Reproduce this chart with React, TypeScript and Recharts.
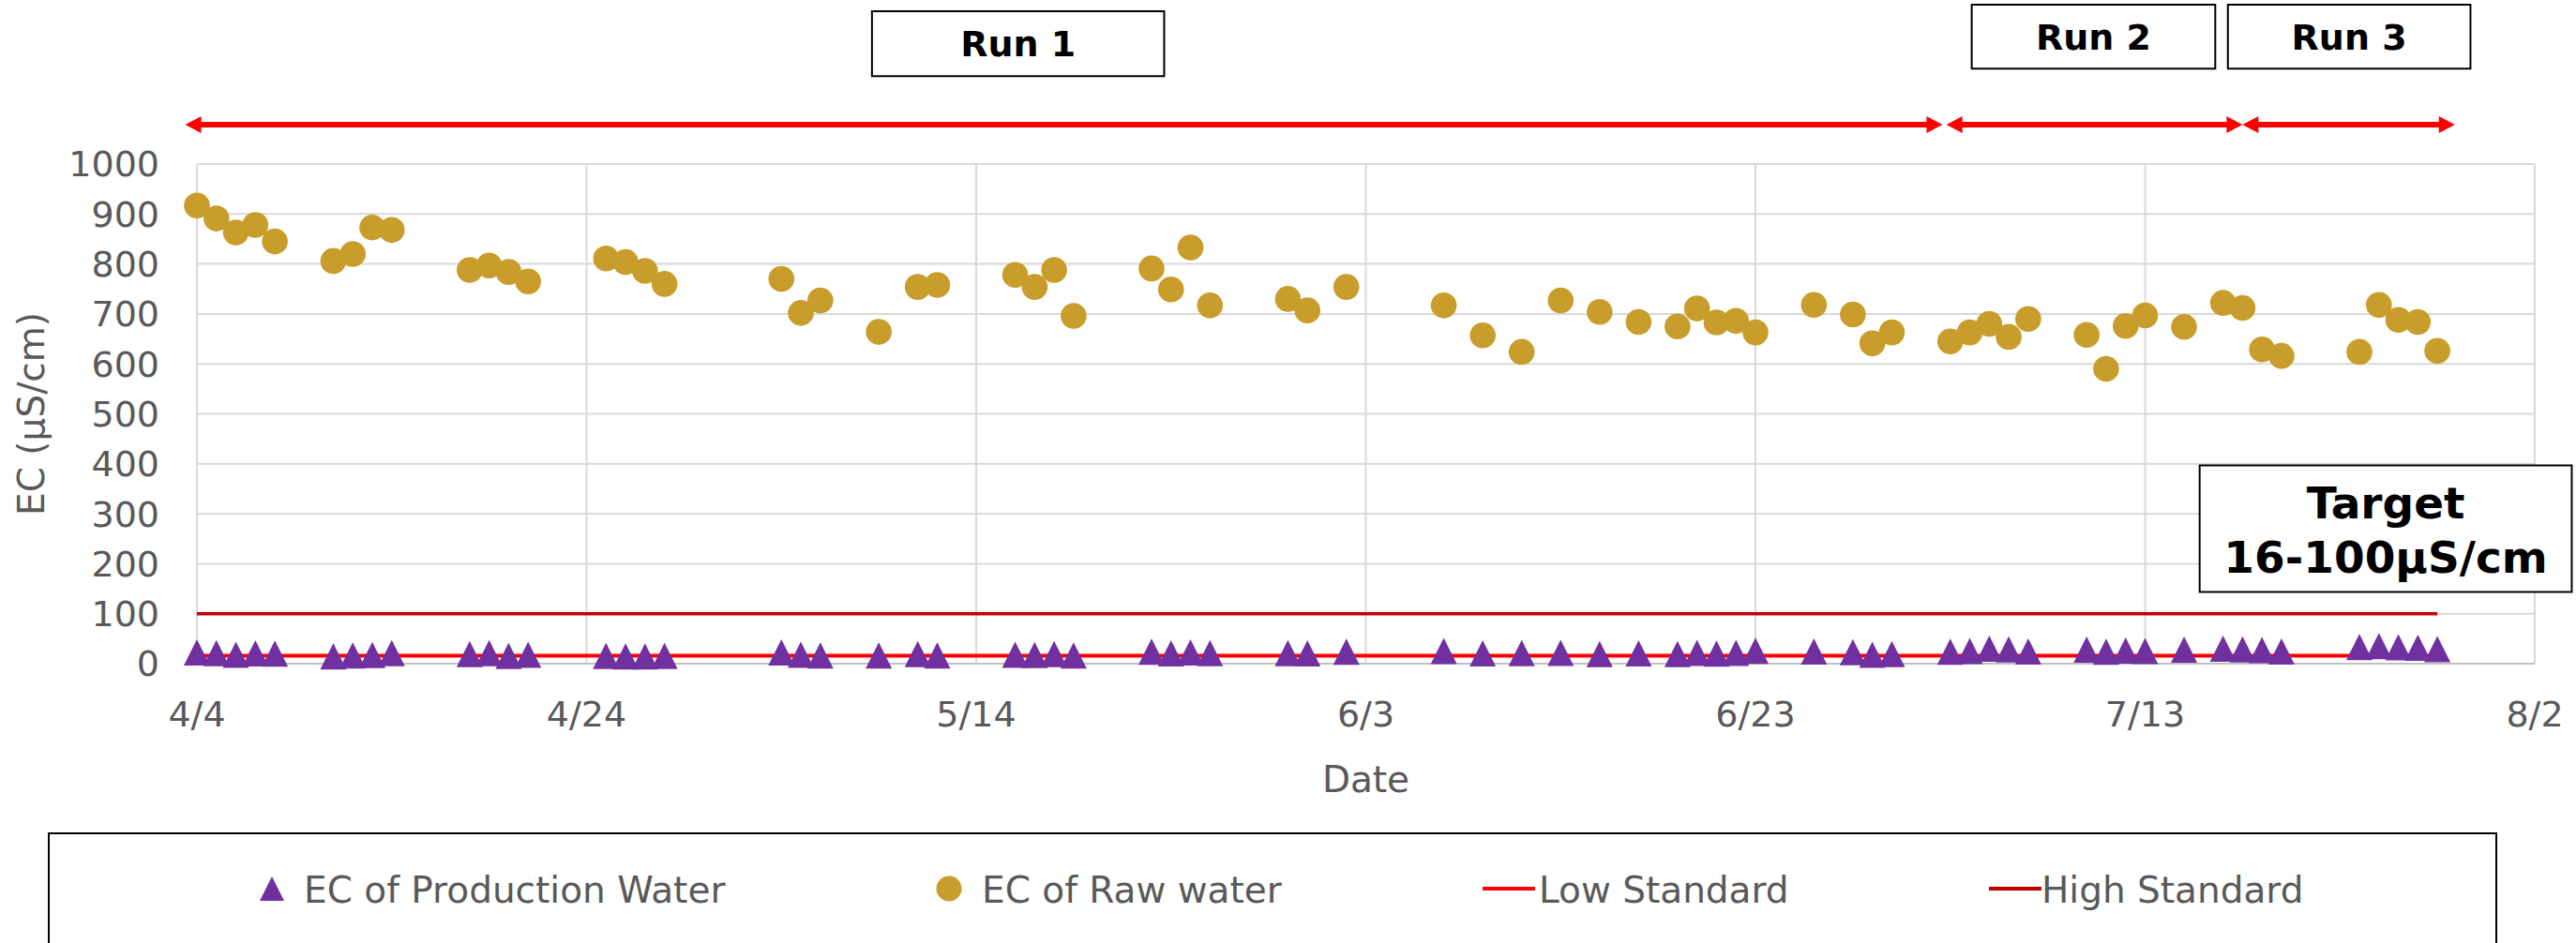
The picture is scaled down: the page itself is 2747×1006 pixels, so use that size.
import React from 'react';
import {
  ComposedChart,
  Scatter,
  Line,
  XAxis,
  YAxis,
  CartesianGrid,
  ReferenceArea,
  ReferenceLine,
} from 'recharts';

// ---------------- data ----------------
const dates = [
  '4/4', '4/5', '4/6', '4/7', '4/8', '4/11', '4/12', '4/13', '4/14', '4/18', '4/19', '4/20', '4/21', '4/25', '4/26', '4/27', '4/28',
  '5/4', '5/5', '5/6', '5/9', '5/11', '5/12', '5/16', '5/17', '5/18', '5/19', '5/23', '5/24', '5/25', '5/26', '5/30', '5/31',
  '6/2', '6/7', '6/9', '6/11', '6/13', '6/15', '6/17', '6/19', '6/20', '6/21', '6/22', '6/23', '6/26', '6/28', '6/29', '6/30',
  '7/3', '7/4', '7/5', '7/6', '7/7', '7/10', '7/11', '7/12', '7/13', '7/15', '7/17', '7/18', '7/19', '7/20', '7/24', '7/25', '7/26', '7/27', '7/28',
];

const productionEC = [
  22.5, 21, 18, 20.6, 20, 14.5, 16.3, 17.5, 21, 19.4, 21, 15.7, 18, 15.7, 14.5, 14.5, 15.7,
  22.5, 18, 16.3, 16.3, 19.4, 16.3, 18, 17.5, 19.4, 16.3, 23.7, 20.6, 22.5, 21.2, 21.2, 20.6,
  23.7, 25.5, 20.6, 21.2, 21.8, 19.4, 20.6, 19.4, 21.8, 20, 21.8, 26, 24.3, 23, 18, 19.4,
  23.7, 25.5, 29.8, 28.6, 24.3, 28, 23.7, 26.2, 25.5, 28, 29.8, 28.6, 27.4, 24.3, 33.5, 35.4, 32.9, 31.7, 29.2,
];

const rawEC = [
  917, 891, 863, 878, 845, 806, 820, 873, 868, 788, 797, 784, 765, 811, 804, 786, 760,
  770, 702, 727, 664, 754, 758, 778, 754, 788, 696, 791, 749, 833, 717, 730, 707,
  754, 717, 657, 624, 727, 704, 684, 675, 711, 683, 686, 663, 718, 699, 641, 663,
  645, 663, 680, 654, 690, 658, 590, 676, 697, 674, 722, 712, 629, 616, 624, 718, 688, 684, 626,
];

const LOW_STANDARD = 16;
const HIGH_STANDARD = 100;

const xTickLabels = ['4/4', '4/24', '5/14', '6/3', '6/23', '7/13', '8/2'];
const yTicks = [0, 100, 200, 300, 400, 500, 600, 700, 800, 900, 1000];

const runNames = ['Run 1', 'Run 2', 'Run 3'];
const seriesNames = ['EC of Production Water', 'EC of Raw water', 'Low Standard', 'High Standard'];

// ---------------- helpers ----------------
const MONTH_START: Record<number, number> = { 4: 0, 5: 30, 6: 61, 7: 91, 8: 122 };
const dayIndex = (md: string) => {
  const [m, d] = md.split('/').map(Number);
  return MONTH_START[m] + d - 4;
};

const rows = dates.map((d, i) => ({
  day: dayIndex(d),
  date: d,
  production: productionEC[i],
  raw: rawEC[i],
  low: LOW_STANDARD,
  high: HIGH_STANDARD,
}));

const xTicks = xTickLabels.map(dayIndex);
const labelByDay: Record<number, string> = {};
xTickLabels.forEach((l) => {
  labelByDay[dayIndex(l)] = l;
});

// annotation placement (data space)
const runArrowStart = [-0.6, 89.8, 105.0];
const runArrowEnd = [89.6, 105.0, 115.9];
const ARROW_Y = 1079;
const runBoxX1 = [34.65, 91.1, 104.25];
const runBoxX2 = [49.65, 103.6, 116.7];
const runBoxY1 = [1176, 1191, 1191];
const runBoxY2 = [1306, 1319, 1319];

// ---------------- styles ----------------
const PURPLE = '#7030A0';
const GOLD = '#C99D2B';
const RED = '#FF0000';
const DARK_RED = '#C00000';
const TEXT_GRAY = '#595959';
const FONT = "'DejaVu Sans', 'Noto Sans', sans-serif";

const TriangleShape = (props: any) => {
  const { cx, cy } = props;
  if (cx == null || cy == null) return null;
  const h = 14;
  return (
    <polygon
      points={`${cx},${cy - h} ${cx + h},${cy + h} ${cx - h},${cy + h}`}
      fill={PURPLE}
    />
  );
};

const CircleShape = (props: any) => {
  const { cx, cy } = props;
  if (cx == null || cy == null) return null;
  return <circle cx={cx} cy={cy} r={13.8} fill={GOLD} />;
};

const ArrowShape = (props: any) => {
  const { x1, y1, x2, y2 } = props;
  const head = 17;
  const half = 9;
  return (
    <g>
      <line x1={x1 + head - 1} y1={y1} x2={x2 - head + 1} y2={y2} stroke={RED} strokeWidth={6} />
      <polygon points={`${x1},${y1} ${x1 + head},${y1 - half} ${x1 + head},${y1 + half}`} fill={RED} />
      <polygon points={`${x2},${y2} ${x2 - head},${y2 - half} ${x2 - head},${y2 + half}`} fill={RED} />
    </g>
  );
};

const TargetLabel = (props: any) => {
  const vb = props.viewBox || {};
  const cx = vb.x + vb.width / 2;
  const cy = vb.y + vb.height / 2;
  return (
    <g>
      <text x={cx} y={cy - 27} textAnchor="middle" dominantBaseline="central" fontSize={47} fontWeight={700} fill="#000" fontFamily={FONT}>
        Target
      </text>
      <text x={cx} y={cy + 31} textAnchor="middle" dominantBaseline="central" fontSize={47} fontWeight={700} fill="#000" fontFamily={FONT}>
        16-100μS/cm
      </text>
    </g>
  );
};

export default function App() {
  return (
    <div
      style={{
        position: 'fixed',
        left: 0,
        top: 0,
        width: 2747,
        height: 1006,
        overflow: 'hidden',
        background: '#fff',
        fontFamily: FONT,
      }}
    >
      <ComposedChart
        width={2747}
        height={1006}
        data={rows}
        margin={{ top: 175, right: 44, bottom: 153, left: 10 }}
      >
        <CartesianGrid stroke="#D9D9D9" strokeWidth={2} />
        <XAxis
          dataKey="day"
          type="number"
          domain={[0, 120]}
          ticks={xTicks}
          interval={0}
          tickFormatter={(v: number) => labelByDay[v] ?? ''}
          tick={{ fill: TEXT_GRAY, fontSize: 38, fontFamily: FONT }}
          tickLine={false}
          tickSize={0}
          tickMargin={40}
          axisLine={{ stroke: '#BFBFBF', strokeWidth: 2 }}
          height={145}
          label={{ value: 'Date', position: 'insideBottom', offset: 8, fill: TEXT_GRAY, fontSize: 39, fontFamily: FONT }}
        />
        <YAxis
          type="number"
          domain={[0, 1000]}
          ticks={yTicks}
          interval={0}
          width={200}
          axisLine={false}
          tickLine={false}
          tickSize={0}
          tickMargin={40}
          tick={{ fill: TEXT_GRAY, fontSize: 38, fontFamily: FONT }}
          label={{
            value: 'EC (μS/cm)',
            angle: -90,
            position: 'insideLeft',
            offset: 23.5,
            fill: TEXT_GRAY,
            fontSize: 39,
            fontFamily: FONT,
            style: { textAnchor: 'middle' },
          }}
        />
        <Scatter name={seriesNames[0]} data={rows} dataKey="production" fill={PURPLE} shape={TriangleShape} isAnimationActive={false} />
        <Scatter name={seriesNames[1]} data={rows} dataKey="raw" fill={GOLD} shape={CircleShape} isAnimationActive={false} />
        <Line name={seriesNames[2]} dataKey="low" stroke={RED} strokeWidth={4} dot={false} activeDot={false} isAnimationActive={false} />
        <Line name={seriesNames[3]} dataKey="high" stroke={DARK_RED} strokeWidth={3.5} dot={false} activeDot={false} isAnimationActive={false} />

        {runNames.map((name, i) => (
          <ReferenceLine
            key={`arrow-${name}`}
            segment={[
              { x: runArrowStart[i], y: ARROW_Y },
              { x: runArrowEnd[i], y: ARROW_Y },
            ]}
            ifOverflow="visible"
            shape={ArrowShape}
          />
        ))}
        {runNames.map((name, i) => (
          <ReferenceArea
            key={`box-${name}`}
            x1={runBoxX1[i]}
            x2={runBoxX2[i]}
            y1={runBoxY1[i]}
            y2={runBoxY2[i]}
            ifOverflow="visible"
            fill="#fff"
            fillOpacity={1}
            stroke="#000"
            strokeWidth={2}
            label={{ value: name, position: 'center', fill: '#000', fontSize: 38, fontWeight: 700, fontFamily: FONT }}
          />
        ))}
        <ReferenceArea
          x1={102.8}
          x2={121.9}
          y1={143.6}
          y2={396.8}
          ifOverflow="visible"
          fill="#fff"
          fillOpacity={1}
          stroke="#000"
          strokeWidth={2}
          label={<TargetLabel />}
        />
      </ComposedChart>

      <svg
        width={2747}
        height={1006}
        style={{ position: 'absolute', left: 0, top: 0, pointerEvents: 'none' }}
      >
        <rect x={52} y={889} width={2610} height={200} fill="#fff" stroke="#000" strokeWidth={2} />
        <polygon points="290,935 303,961 277,961" fill={PURPLE} />
        <text x={324} y={963} fontSize={39} fill={TEXT_GRAY} fontFamily={FONT}>{seriesNames[0]}</text>
        <circle cx={1012} cy={948} r={13.5} fill={GOLD} />
        <text x={1047} y={963} fontSize={39} fill={TEXT_GRAY} fontFamily={FONT}>{seriesNames[1]}</text>
        <line x1={1581} y1={948} x2={1637} y2={948} stroke={RED} strokeWidth={4} />
        <text x={1641} y={963} fontSize={39} fill={TEXT_GRAY} fontFamily={FONT}>{seriesNames[2]}</text>
        <line x1={2121} y1={948} x2={2177} y2={948} stroke={DARK_RED} strokeWidth={4} />
        <text x={2177} y={963} fontSize={39} fill={TEXT_GRAY} fontFamily={FONT}>{seriesNames[3]}</text>
      </svg>
    </div>
  );
}
